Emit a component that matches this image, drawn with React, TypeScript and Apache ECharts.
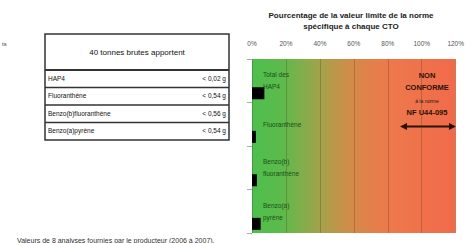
import React, { useEffect, useRef } from "react";
import * as echarts from "echarts";

const categories = ["Total des\nHAP4", "Fluoranthène", "Benzo(b)\nfluoranthène", "Benzo(a)\npyrène"];
const percentValues = [7.3, 2.3, 2.9, 5.1];
const xMin = 0;
const xMax = 120;
const xInterval = 20;
const chartTitle = ["Pourcentage de la valeur limite de la norme", "spécifique à chaque CTO"];
const tableTitle = "40 tonnes brutes apportent";
const tableNames = ["HAP4", "Fluoranthène", "Benzo(b)fluoranthène", "Benzo(a)pyrène"];
const tableValues = ["< 0,02 g", "< 0,54 g", "< 0,56 g", "< 0,54 g"];
const footnote = "Valeurs de 8 analyses fournies par le producteur (2006 à 2007).";
const nonConformeText = ["NON", "CONFORME", "à la norme", "NF U44-095"];

const FONT = "Liberation Sans, Arial, sans-serif";

export default function App() {
  const ref = useRef<HTMLDivElement>(null);
  useEffect(() => {
    document.body.style.margin = "0";
    if (!ref.current) return;
    const chart = echarts.init(ref.current, null, { renderer: "svg" });

    const tLeft = 45, tRight = 229, tTop = 34, headBottom = 70, rowH = 17.5;
    const tBottom = headBottom + rowH * tableNames.length;
    const graphics: any[] = [];
    graphics.push({ type: "rect", shape: { x: tLeft, y: tTop, width: tRight - tLeft, height: tBottom - tTop }, style: { fill: "#fff", stroke: "#333", lineWidth: 1.5 } });
    graphics.push({ type: "line", shape: { x1: tLeft, y1: headBottom, x2: tRight, y2: headBottom }, style: { stroke: "#333", lineWidth: 2 } });
    graphics.push({ type: "text", x: (tLeft + tRight) / 2, y: (tTop + headBottom) / 2, style: { text: tableTitle, fontSize: 8, fontFamily: FONT, fill: "#111", align: "center", verticalAlign: "middle" } });
    tableNames.forEach((n, i) => {
      const y0 = headBottom + rowH * i;
      const yc = y0 + rowH / 2 - 0.5;
      graphics.push({ type: "text", x: tLeft + 3, y: yc, style: { text: n, fontSize: 6.5, fontFamily: FONT, fill: "#111", verticalAlign: "middle" } });
      graphics.push({ type: "text", x: tRight - 3, y: yc, style: { text: tableValues[i], fontSize: 6.5, fontFamily: FONT, fill: "#111", align: "right", verticalAlign: "middle" } });
      if (i < tableNames.length - 1) {
        graphics.push({ type: "line", shape: { x1: tLeft, y1: y0 + rowH, x2: tRight, y2: y0 + rowH }, style: { stroke: "#333", lineWidth: 1.5 } });
      }
    });
    graphics.push({ type: "text", x: 2, y: 44, style: { text: "ts", fontSize: 6, fontFamily: FONT, fill: "#444", verticalAlign: "middle" } });
    chartTitle.forEach((t, i) => {
      graphics.push({ type: "text", x: 351, y: 15 + i * 11, style: { text: t, fontSize: 8, fontWeight: "bold", fontFamily: FONT, fill: "#222", align: "center", verticalAlign: "middle" } });
    });
    graphics.push({ type: "text", x: 17, y: 240, style: { text: footnote, fontSize: 7, fontFamily: FONT, fill: "#333", verticalAlign: "middle" } });
    const ncY = [75, 87.5, 100.5, 112.5];
    const ncSize = [7.5, 7.5, 5, 7.5];
    nonConformeText.forEach((t, i) => {
      graphics.push({ type: "text", x: 427, y: ncY[i], style: { text: t, fontSize: ncSize[i], fontWeight: i === 2 ? "normal" : "bold", fontFamily: FONT, fill: "#2a1208", align: "center", verticalAlign: "middle" } });
    });
    const ay = 126.5, ax1 = 400, ax2 = 456;
    graphics.push({ type: "line", shape: { x1: ax1 + 4, y1: ay, x2: ax2 - 4, y2: ay }, style: { stroke: "#2a1208", lineWidth: 2 } });
    graphics.push({ type: "polygon", shape: { points: [[ax1, ay], [ax1 + 7, ay - 3.5], [ax1 + 7, ay + 3.5]] }, style: { fill: "#2a1208" } });
    graphics.push({ type: "polygon", shape: { points: [[ax2, ay], [ax2 - 7, ay - 3.5], [ax2 - 7, ay + 3.5]] }, style: { fill: "#2a1208" } });

    chart.setOption({
      animation: false,
      textStyle: { fontFamily: FONT },
      grid: {
        left: 252, right: 8, top: 59, bottom: 10, containLabel: false,
        show: true, borderWidth: 0,
        backgroundColor: new echarts.graphic.LinearGradient(0, 0, 1, 0, [
          { offset: 0, color: "#4dbf4d" },
          { offset: 0.15, color: "#5dba4b" },
          { offset: 0.35, color: "#a9a04a" },
          { offset: 0.5, color: "#d68948" },
          { offset: 0.65, color: "#ec7a4b" },
          { offset: 1, color: "#f16a4b" },
        ]),
      },
      xAxis: {
        type: "value", position: "top", min: xMin, max: xMax, interval: xInterval,
        axisLine: { show: false }, axisTick: { show: false },
        axisLabel: { formatter: "{value}%", fontSize: 6.5, color: "#555", margin: 12 },
        splitLine: { show: true, lineStyle: { color: "rgba(60,40,20,0.25)", width: 1 } },
      },
      yAxis: {
        type: "category", inverse: true, data: categories,
        axisLine: { show: false },
        axisTick: { show: true, length: 5, lineStyle: { color: "#aaa" } },
        axisLabel: { inside: true, margin: 11, fontSize: 6.5, color: "#1b4f1b", lineHeight: 12, align: "left" },
      },
      series: [
        { type: "bar", data: categories.map(() => null), barWidth: 12, barGap: "110%" },
        { type: "bar", data: percentValues, barWidth: 12, barGap: "110%", itemStyle: { color: "#000" } },
      ],
      graphic: graphics,
    });
    return () => chart.dispose();
  }, []);
  return <div ref={ref} style={{ width: 467, height: 243 }} />;
}
